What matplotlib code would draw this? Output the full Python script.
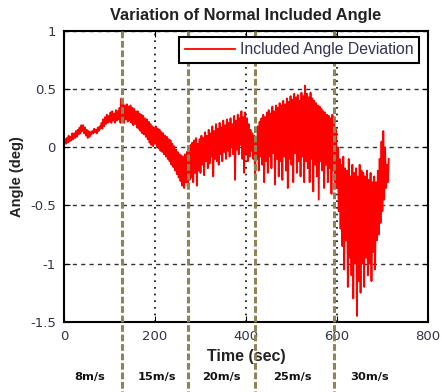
import numpy as np
import matplotlib
matplotlib.use("Agg")
import matplotlib.pyplot as plt
import matplotlib.transforms as mtransforms

plt.rcParams['font.family'] = ['Liberation Sans', 'DejaVu Sans']

dt = 2.0
angle = [
    0.02, 0.07, 0.03, 0.08, 0.04, 0.10, 0.05, 0.09, 0.06, 0.12,
    0.07, 0.12, 0.08, 0.14, 0.09, 0.15, 0.11, 0.17, 0.12, 0.19,
    0.14, 0.19, 0.12, 0.17, 0.10, 0.15, 0.08, 0.14, 0.09, 0.13,
    0.11, 0.14, 0.12, 0.16, 0.13, 0.15, 0.12, 0.17, 0.14, 0.18,
    0.16, 0.21, 0.16, 0.24, 0.18, 0.26, 0.20, 0.28, 0.21, 0.27,
    0.22, 0.30, 0.21, 0.31, 0.23, 0.29, 0.21, 0.32, 0.23, 0.31,
    0.24, 0.34, 0.21, 0.42, 0.23, 0.38, 0.21, 0.36, 0.24, 0.37,
    0.22, 0.35, 0.23, 0.36, 0.21, 0.34, 0.19, 0.33, 0.20, 0.31,
    0.17, 0.31, 0.16, 0.29, 0.14, 0.28, 0.12, 0.27, 0.11, 0.25,
    0.09, 0.24, 0.07, 0.22, 0.04, 0.20, 0.02, 0.18, 0.01, 0.17,
    0.03, 0.18, 0.01, 0.16, -0.01, 0.15, -0.03, 0.13, -0.04, 0.12,
    -0.06, 0.10, -0.08, 0.09, -0.10, 0.07, -0.12, 0.06, -0.15, 0.03,
    -0.17, 0.01, -0.20, -0.02, -0.23, -0.04, -0.26, -0.06, -0.29, -0.07,
    -0.33, -0.08, -0.35, -0.06, -0.30, -0.04, -0.33, -0.02, -0.28, 0.02,
    -0.26, 0.04, -0.30, 0.06, -0.22, 0.08, -0.33, 0.03, -0.20, 0.07,
    -0.22, 0.10, -0.15, 0.08, -0.24, 0.13, -0.12, 0.10, -0.18, 0.15,
    -0.14, 0.12, -0.08, 0.18, -0.25, 0.14, -0.10, 0.20, -0.12, 0.16,
    -0.15, 0.21, -0.06, 0.17, -0.12, 0.23, -0.04, 0.19, -0.10, 0.24,
    -0.03, 0.21, -0.08, 0.25, 0.00, 0.20, -0.06, 0.27, -0.28, 0.23,
    -0.02, 0.28, -0.06, 0.25, 0.02, 0.31, -0.10, 0.26, -0.22, 0.30,
    -0.05, 0.25, -0.12, 0.20, -0.08, 0.15, -0.03, 0.12, -0.10, 0.10,
    -0.28, 0.06, -0.10, 0.18, -0.20, 0.22, -0.08, 0.25, -0.15, 0.28,
    -0.30, 0.26, -0.12, 0.30, -0.22, 0.32, -0.08, 0.29, -0.18, 0.35,
    -0.05, 0.31, -0.32, 0.36, -0.10, 0.34, -0.25, 0.38, -0.12, 0.36,
    -0.28, 0.40, -0.08, 0.37, -0.20, 0.42, -0.35, 0.39, -0.10, 0.44,
    -0.15, 0.41, -0.30, 0.46, -0.05, 0.43, -0.22, 0.45, -0.12, 0.40,
    -0.25, 0.47, -0.08, 0.44, -0.30, 0.53, -0.12, 0.46, -0.18, 0.43,
    -0.30, 0.47, -0.10, 0.42, -0.38, 0.40, -0.15, 0.38, -0.25, 0.36,
    -0.45, 0.35, -0.12, 0.33, -0.20, 0.31, -0.35, 0.30, -0.15, 0.28,
    -0.30, 0.27, -0.18, 0.25, -0.40, 0.28, -0.20, 0.26, -0.30, 0.15,
    -0.35, 0.00, -0.55, -0.10, -0.70, -0.15, -0.85, -0.08, -1.05, -0.18,
    -0.80, -0.20, -1.20, -0.10, -0.95, -0.25, -1.10, -0.15, -1.30, -0.22,
    -1.00, -0.18, -1.45, -0.25, -1.15, -0.15, -1.25, -0.20, -1.00, -0.22,
    -1.20, -0.25, -0.95, -0.20, -1.10, -0.28, -1.00, -0.22, -1.15, -0.30,
    -0.90, -0.25, -1.05, -0.30, -0.80, -0.20, -0.75, -0.10, -0.65, 0.05,
    -0.55, 0.14, -0.45, 0.00, -0.35, -0.15, -0.30, -0.10,
]
time = np.arange(len(angle)) * dt

# wind speed change times (sec) and labels
speed_changes = [127, 272, 420, 593]
speed_labels = ["8m/s", "15m/s", "20m/s", "25m/s", "30m/s"]
speed_label_x = [57, 204, 347, 503, 672]

fig = plt.figure(figsize=(4.42, 3.92), dpi=100)
ax = fig.add_axes([0.145, 0.179, 0.823, 0.742])

ax.plot(time, angle, color="red", lw=1.3, label="Included Angle Deviation")

ax.set_xlim(0, 800)
ax.set_ylim(-1.5, 1)
ax.set_xticks([0, 200, 400, 600, 800])
ax.set_yticks([-1.5, -1, -0.5, 0, 0.5, 1])
ax.set_yticklabels(["-1.5", "-1", "-0.5", "0", "0.5", "1"])
ax.tick_params(direction="in", length=4, labelsize=9.5, labelcolor="#333344",
               top=True, right=True)
ax.tick_params(axis="x", pad=6)
ax.tick_params(axis="y", pad=6)
for lab in ax.get_xticklabels() + ax.get_yticklabels():
    lab.set_family("DejaVu Sans")

ax.xaxis.grid(True, color="black", ls=(0, (1, 3)), lw=1.2)
ax.yaxis.grid(True, color="#333333", ls=(0, (3, 3)), lw=1.0)
ax.set_axisbelow(True)
for s in ax.spines.values():
    s.set_linewidth(1.5)

ax.set_title("Variation of Normal Included Angle", fontsize=11.8, fontweight="bold", color="#222222", pad=8)
ax.set_xlabel("Time (sec)", fontsize=11.5, fontweight="bold", color="#222222", labelpad=4)
ax.set_ylabel("Angle (deg)", fontsize=10.5, fontweight="bold", color="#222222", labelpad=4)

trans = mtransforms.blended_transform_factory(ax.transData, ax.transAxes)
for xc in speed_changes:
    ax.plot([xc, xc], [1.0, -0.25], transform=trans, color="#8c8559", lw=2.2,
            ls=(0, (2.2, 0.9)), clip_on=False, zorder=5)
for xl, lab in zip(speed_label_x, speed_labels):
    ax.text(xl, -0.19, lab, transform=trans, ha="center", va="center",
            fontsize=8.2, fontweight="bold", color="#111111", family="DejaVu Sans")

leg = ax.legend(loc="upper right", fontsize=11.3, frameon=True, fancybox=False,
                borderpad=0.35, handlelength=3.2, handletextpad=0.3,
                bbox_to_anchor=(0.975, 0.98), borderaxespad=0.0)
leg.get_frame().set_edgecolor("black")
leg.get_frame().set_linewidth(1.5)
leg.get_frame().set_alpha(1)
for t in leg.get_texts():
    t.set_color("#333355")

fig.savefig("out.png", dpi=100)
